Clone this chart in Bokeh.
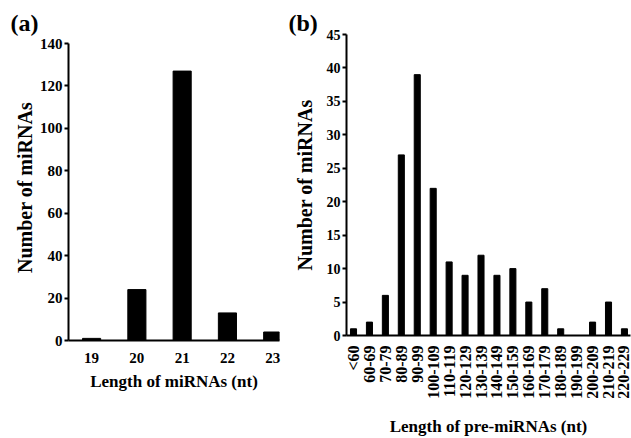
import math
from bokeh.plotting import figure
from bokeh.layouts import row
from bokeh.models import Range1d, FixedTicker, Title
from bokeh.embed import file_html
from bokeh.resources import INLINE

# Panel (a): miRNA lengths
mirna_lengths = [19, 20, 21, 22, 23]
mirna_counts = [1, 24, 127, 13, 4]
a_yticks = [0, 20, 40, 60, 80, 100, 120, 140]

# Panel (b): pre-miRNA lengths
pre_labels = ["<60", "60-69", "70-79", "80-89", "90-99", "100-109", "110-119",
              "120-129", "130-139", "140-149", "150-159", "160-169", "170-179",
              "180-189", "190-199", "200-209", "210-219", "220-229"]
pre_counts = [1, 2, 6, 27, 39, 22, 11, 9, 12, 9, 10, 5, 7, 1, 0, 2, 5, 1]
b_yticks = [0, 5, 10, 15, 20, 25, 30, 35, 40, 45]

FONT = "Liberation Serif"


def style(p):
    p.xgrid.visible = False
    p.ygrid.visible = False
    p.outline_line_color = None
    p.background_fill_color = "white"
    p.border_fill_color = "white"
    for ax in (p.xaxis[0], p.yaxis[0]):
        ax.axis_line_width = 2
        ax.axis_line_color = "black"
        ax.major_label_text_font = FONT
        ax.major_label_text_font_style = "bold"
        ax.major_label_text_color = "black"
        ax.axis_label_text_font = FONT
        ax.axis_label_text_font_style = "bold"
        ax.axis_label_text_color = "black"
        ax.minor_tick_line_color = None
    p.xaxis.major_tick_line_color = None
    p.yaxis.major_tick_in = 0
    p.yaxis.major_tick_out = 4
    p.yaxis.major_tick_line_width = 2
    p.yaxis.major_tick_line_color = "black"


def panel_title(p, text, offset):
    t = Title(text=text, text_font=FONT, text_font_style="bold",
              text_font_size="24px", text_color="black", align="left",
              offset=offset, standoff=-3)
    p.add_layout(t, "above")


# ---------- Panel (a) ----------
A_FRAME_H = 306
a_top = max(a_yticks) * A_FRAME_H / 297.0   # headroom so the 140 tick sits below frame top
pa = figure(frame_width=211, frame_height=A_FRAME_H, output_backend="svg",
            toolbar_location=None,
            x_range=Range1d(18.49, 23.15), y_range=Range1d(0, a_top),
            min_border_left=68, min_border_right=9, min_border_top=34,
            min_border_bottom=98)
pa.vbar(x=mirna_lengths, top=mirna_counts, width=0.4, bottom=0,
        fill_color="black", line_color="black")
style(pa)
pa.title.visible = False
pa.yaxis.bounds = (0, max(a_yticks))
pa.xaxis.ticker = FixedTicker(ticks=mirna_lengths)
pa.yaxis.ticker = FixedTicker(ticks=a_yticks)
pa.xaxis.major_label_text_font_size = "15px"
pa.yaxis.major_label_text_font_size = "15px"
pa.xaxis.major_label_standoff = 6
pa.yaxis.major_label_standoff = 2
pa.xaxis.axis_label = "Length of miRNAs (nt)"
pa.yaxis.axis_label = "Number of miRNAs"
pa.xaxis.axis_label_text_font_size = "17px"
pa.yaxis.axis_label_text_font_size = "20px"
pa.xaxis.axis_label_standoff = 6
pa.yaxis.axis_label_standoff = 1
panel_title(pa, "(a)", -58)

# ---------- Panel (b) ----------
B_FRAME_H = 301
xb = list(range(len(pre_labels)))
pb = figure(frame_width=284, frame_height=B_FRAME_H, output_backend="svg",
            toolbar_location=None,
            x_range=Range1d(-0.44, len(pre_labels) - 0.62), y_range=Range1d(0, 45),
            min_border_left=58, min_border_right=1, min_border_top=34,
            min_border_bottom=103)
pb.vbar(x=xb, top=pre_counts, width=0.38, bottom=0,
        fill_color="black", line_color="black")
style(pb)
pb.title.visible = False
pb.xaxis.ticker = FixedTicker(ticks=xb)
pb.xaxis.major_label_overrides = {i: lab for i, lab in enumerate(pre_labels)}
pb.xaxis.major_label_orientation = math.pi / 2
pb.yaxis.ticker = FixedTicker(ticks=b_yticks)
pb.xaxis.major_label_text_font_size = "16px"
pb.yaxis.major_label_text_font_size = "14px"
pb.xaxis.major_label_standoff = 4
pb.yaxis.major_label_standoff = 2
pb.xaxis.axis_label = "Length of pre-miRNAs (nt)"
pb.yaxis.axis_label = "Number of miRNAs"
pb.xaxis.axis_label_text_font_size = "17px"
pb.yaxis.axis_label_text_font_size = "20px"
pb.xaxis.axis_label_standoff = 15
pb.yaxis.axis_label_standoff = 8
panel_title(pb, "(b)", -58)

layout = row(pa, pb)
open("out.html", "w").write(file_html(layout, INLINE))
